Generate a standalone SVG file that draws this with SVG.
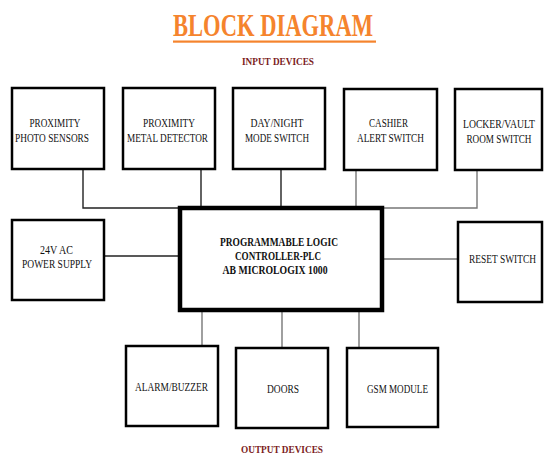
<svg xmlns="http://www.w3.org/2000/svg" width="545" height="455" viewBox="0 0 545 455">
<style>
.box{fill:#fff;stroke:#000;stroke-width:2.5}
.main{fill:#fff;stroke:#000;stroke-width:4.5}
.t{font-family:"Liberation Serif","Times New Roman",serif;font-size:11.5px;fill:#111;text-anchor:middle}
.b{font-weight:bold}
.c{fill:none;stroke:#777;stroke-width:1.4}
.cd{fill:none;stroke:#222;stroke-width:1.4}
.h{font-family:"Liberation Serif","Times New Roman",serif;font-weight:bold;text-anchor:middle}
</style>
<rect width="545" height="455" fill="#fff"/>
<g id="title">
<text class="h" x="273" y="36" font-size="32" fill="#F5842D" textLength="200" lengthAdjust="spacingAndGlyphs">BLOCK DIAGRAM</text>
<rect x="173" y="40.5" width="203" height="2.2" fill="#F5842D"/>
<text class="h" x="278" y="65" font-size="11" fill="#7B1C1C" textLength="72" lengthAdjust="spacingAndGlyphs">INPUT DEVICES</text>
<text class="h" x="282" y="453" font-size="11" fill="#7B1C1C" textLength="82" lengthAdjust="spacingAndGlyphs">OUTPUT DEVICES</text>
</g>
<g id="connectors">
<polyline class="cd" points="83,169 83,208 180,208"/>
<line class="cd" x1="201" y1="169" x2="201" y2="208"/>
<line class="cd" x1="281" y1="169" x2="281" y2="208"/>
<line class="c" x1="356" y1="170" x2="356" y2="208"/>
<polyline class="c" points="477,170 477,208 382,208"/>
<line class="cd" x1="104" y1="256" x2="180" y2="256"/>
<line class="c" x1="382" y1="259" x2="458" y2="259"/>
<line class="c" x1="202" y1="310" x2="202" y2="346"/>
<line class="c" x1="282" y1="310" x2="282" y2="348"/>
<line class="c" x1="359" y1="310" x2="359" y2="348"/>
</g>
<g id="plc">
<rect class="main" x="180" y="208" width="202" height="102"/>
<text class="t b" x="279" y="246" textLength="118" lengthAdjust="spacingAndGlyphs">PROGRAMMABLE LOGIC</text>
<text class="t b" x="278" y="260" textLength="86" lengthAdjust="spacingAndGlyphs">CONTROLLER-PLC</text>
<text class="t b" x="275" y="274" textLength="105" lengthAdjust="spacingAndGlyphs">AB MICROLOGIX 1000</text>
</g>
<g id="proximity-photo">
<rect class="box" x="12" y="88" width="92" height="81"/>
<text class="t" x="55" y="127" textLength="51" lengthAdjust="spacingAndGlyphs">PROXIMITY</text>
<text class="t" x="52" y="142" textLength="74" lengthAdjust="spacingAndGlyphs">PHOTO SENSORS</text>
</g>
<g id="proximity-metal">
<rect class="box" x="123" y="88" width="92" height="81"/>
<text class="t" x="169" y="127" textLength="52" lengthAdjust="spacingAndGlyphs">PROXIMITY</text>
<text class="t" x="167.5" y="142" textLength="81" lengthAdjust="spacingAndGlyphs">METAL DETECTOR</text>
</g>
<g id="day-night">
<rect class="box" x="233" y="88" width="92" height="81"/>
<text class="t" x="277" y="127" textLength="53" lengthAdjust="spacingAndGlyphs">DAY/NIGHT</text>
<text class="t" x="277" y="142" textLength="64" lengthAdjust="spacingAndGlyphs">MODE SWITCH</text>
</g>
<g id="cashier">
<rect class="box" x="344" y="89" width="93" height="81"/>
<text class="t" x="388.5" y="127" textLength="39" lengthAdjust="spacingAndGlyphs">CASHIER</text>
<text class="t" x="390.5" y="142" textLength="67" lengthAdjust="spacingAndGlyphs">ALERT SWITCH</text>
</g>
<g id="locker">
<rect class="box" x="455" y="89" width="87" height="81"/>
<text class="t" x="499" y="128" textLength="72" lengthAdjust="spacingAndGlyphs">LOCKER/VAULT</text>
<text class="t" x="499" y="143" textLength="65" lengthAdjust="spacingAndGlyphs">ROOM SWITCH</text>
</g>
<g id="power">
<rect class="box" x="12" y="220" width="92" height="80"/>
<text class="t" x="56.5" y="254" textLength="33" lengthAdjust="spacingAndGlyphs">24V AC</text>
<text class="t" x="57" y="268" textLength="70" lengthAdjust="spacingAndGlyphs">POWER SUPPLY</text>
</g>
<g id="reset">
<rect class="box" x="458" y="222" width="84" height="80"/>
<text class="t" x="502.5" y="263" textLength="67" lengthAdjust="spacingAndGlyphs">RESET SWITCH</text>
</g>
<g id="alarm">
<rect class="box" x="126" y="346" width="92" height="80"/>
<text class="t" x="171.5" y="391" textLength="73" lengthAdjust="spacingAndGlyphs">ALARM/BUZZER</text>
</g>
<g id="doors">
<rect class="box" x="236" y="348" width="92" height="80"/>
<text class="t" x="283" y="393" textLength="32" lengthAdjust="spacingAndGlyphs">DOORS</text>
</g>
<g id="gsm">
<rect class="box" x="347" y="348" width="91" height="79"/>
<text class="t" x="397.5" y="393" textLength="61" lengthAdjust="spacingAndGlyphs">GSM MODULE</text>
</g>
</svg>
